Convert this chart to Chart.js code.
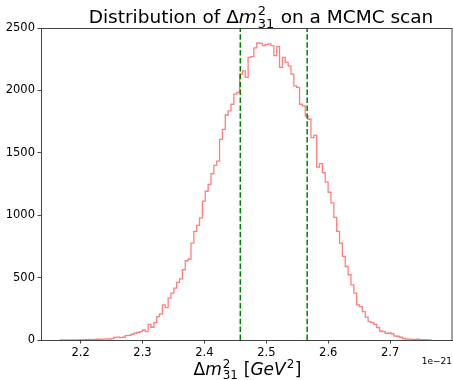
<!DOCTYPE html>
<html lang="en">
<head>
<meta charset="UTF-8">
<title>Delta m31 MCMC scan</title>
<style>
  body { margin: 0; background: #fff; }
  #wrap { width: 453px; height: 380px; }
</style>
</head>
<body>
<div id="wrap"><canvas id="hist" width="453" height="380"></canvas></div>
<script src="https://cdn.jsdelivr.net/npm/chart.js"></script>
<script>
// histogram of dm^2_31 samples, x in units of 1e-21 GeV^2
const binLow = 2.166;
const binHigh = 2.766;
const counts = [
    0, 0, 0, 0, 0, 0, 1, 3, 0, 2,
    4, 3, 4, 6, 5, 7, 9, 8, 11, 21,
    23, 19, 22, 35, 37, 46, 54, 60, 67, 80,
    67, 126, 102, 139, 187, 209, 281, 260, 335, 375,
    416, 461, 490, 563, 635, 649, 777, 871, 919, 978,
    1112, 1192, 1246, 1332, 1399, 1434, 1608, 1688, 1803, 1836,
    1889, 1970, 1983, 2131, 2157, 2104, 2265, 2270, 2340, 2380,
    2377, 2358, 2366, 2372, 2358, 2278, 2350, 2184, 2265, 2225,
    2197, 2131, 2037, 2024, 1889, 1876, 1795, 1769, 1622, 1640,
    1385, 1413, 1340, 1265, 1184, 1099, 983, 871, 777, 670,
    589, 523, 442, 375, 281, 268, 228, 183, 147, 139,
    125, 100, 72, 67, 54, 56, 50, 32, 30, 22,
    12, 8, 7, 5, 4, 6, 3, 2, 3, 1
];
const intervalBounds = [2.458, 2.566];
const xTicks = [2.2, 2.3, 2.4, 2.5, 2.6, 2.7];
const yTicks = [0, 500, 1000, 1500, 2000, 2500];

const binWidth = (binHigh - binLow) / counts.length;
const stepPoints = [{ x: binLow, y: 0 }];
counts.forEach((c, i) => stepPoints.push({ x: binLow + i * binWidth, y: c }));
stepPoints.push({ x: binHigh, y: counts[counts.length - 1] });
stepPoints.push({ x: binHigh, y: 0 });

const FONT = '"DejaVu Sans", sans-serif';

// draw (or just measure) a row of text pieces with simple mathtext super/subscripts
function mathRow(ctx, parts, x, base, size, draw) {
    let cx = x;
    parts.forEach(p => {
        if (p.t !== undefined) {
            ctx.font = (p.it ? 'italic ' : '') + size + 'px ' + FONT;
            if (draw) ctx.fillText(p.t, cx, base);
            cx += ctx.measureText(p.t).width;
        } else {
            const s = size * 0.7;
            ctx.font = s + 'px ' + FONT;
            let w = 0;
            if (p.sup) {
                if (draw) ctx.fillText(p.sup, cx + 1, base - size * 0.42);
                w = Math.max(w, ctx.measureText(p.sup).width);
            }
            if (p.sub) {
                if (draw) ctx.fillText(p.sub, cx + 1, base + size * 0.26);
                w = Math.max(w, ctx.measureText(p.sub).width);
            }
            cx += w + 1.5;
        }
    });
    return cx - x;
}

const titleParts = [
    { t: 'Distribution of ' }, { t: '\u0394' }, { t: 'm', it: true },
    { sup: '2', sub: '31' }, { t: ' on a MCMC scan' }
];
const xlabelParts = [
    { t: '\u0394' }, { t: 'm', it: true }, { sup: '2', sub: '31' },
    { t: ' [' }, { t: 'GeV', it: true }, { sup: '2' }, { t: ']' }
];

const decorPlugin = {
    id: 'decor',
    afterDraw(chart) {
        const ctx = chart.ctx;
        const area = chart.chartArea;
        ctx.save();
        // top and right spines
        ctx.strokeStyle = '#444';
        ctx.lineWidth = 1;
        ctx.strokeRect(area.left + 0.5, area.top + 0.5, area.right - area.left - 0.5, area.bottom - area.top);
        ctx.fillStyle = '#000';
        ctx.textBaseline = 'alphabetic';
        ctx.textAlign = 'left';
        let w = mathRow(ctx, titleParts, 0, 0, 18.5, false);
        mathRow(ctx, titleParts, 261 - w / 2, 23, 18.5, true);
        w = mathRow(ctx, xlabelParts, 0, 0, 17, false);
        mathRow(ctx, xlabelParts, (area.left + area.right) / 2 - w / 2 + 1, 375, 17, true);
        ctx.font = '9px ' + FONT;
        ctx.textAlign = 'right';
        ctx.fillText('1e\u221221', area.right, 364);
        ctx.restore();
    }
};

const ctx = document.getElementById('hist').getContext('2d');
new Chart(ctx, {
    type: 'line',
    data: {
        datasets: [
            {
                data: stepPoints,
                stepped: true,
                borderColor: 'rgba(255, 0, 0, 0.5)',
                borderWidth: 1.3,
                pointRadius: 0,
                fill: false
            },
            {
                data: [{ x: intervalBounds[0], y: 0 }, { x: intervalBounds[0], y: 2500 }],
                borderColor: '#008000',
                borderWidth: 1.5,
                borderDash: [5.5, 2.4],
                pointRadius: 0
            },
            {
                data: [{ x: intervalBounds[1], y: 0 }, { x: intervalBounds[1], y: 2500 }],
                borderColor: '#008000',
                borderWidth: 1.5,
                borderDash: [5.5, 2.4],
                pointRadius: 0
            }
        ]
    },
    options: {
        responsive: false,
        animation: false,
        parsing: false,
        layout: { padding: { top: 28, right: 1, left: 0, bottom: 0 } },
        plugins: {
            legend: { display: false },
            tooltip: { enabled: false }
        },
        scales: {
            x: {
                type: 'linear',
                min: 2.136,
                max: 2.8,
                afterBuildTicks: scale => { scale.ticks = xTicks.map(v => ({ value: v })); },
                afterFit: scale => { scale.height = 40; },
                grid: { drawOnChartArea: false, drawTicks: true, tickLength: 3.5, color: '#444' },
                border: { display: true, color: '#444', width: 1 },
                ticks: {
                    font: { family: 'DejaVu Sans', size: 11.5 },
                    color: '#000',
                    padding: 2.5,
                    maxRotation: 0,
                    callback: v => v.toFixed(1)
                }
            },
            y: {
                min: 0,
                max: 2500,
                afterBuildTicks: scale => { scale.ticks = yTicks.map(v => ({ value: v })); },
                afterFit: scale => { scale.width = 41; },
                grid: { drawOnChartArea: false, drawTicks: true, tickLength: 3.5, color: '#444' },
                border: { display: true, color: '#444', width: 1 },
                ticks: {
                    font: { family: 'DejaVu Sans', size: 11.5 },
                    color: '#000',
                    padding: 2.5,
                    callback: v => String(v)
                }
            }
        }
    },
    plugins: [decorPlugin]
});
</script>
</body>
</html>
